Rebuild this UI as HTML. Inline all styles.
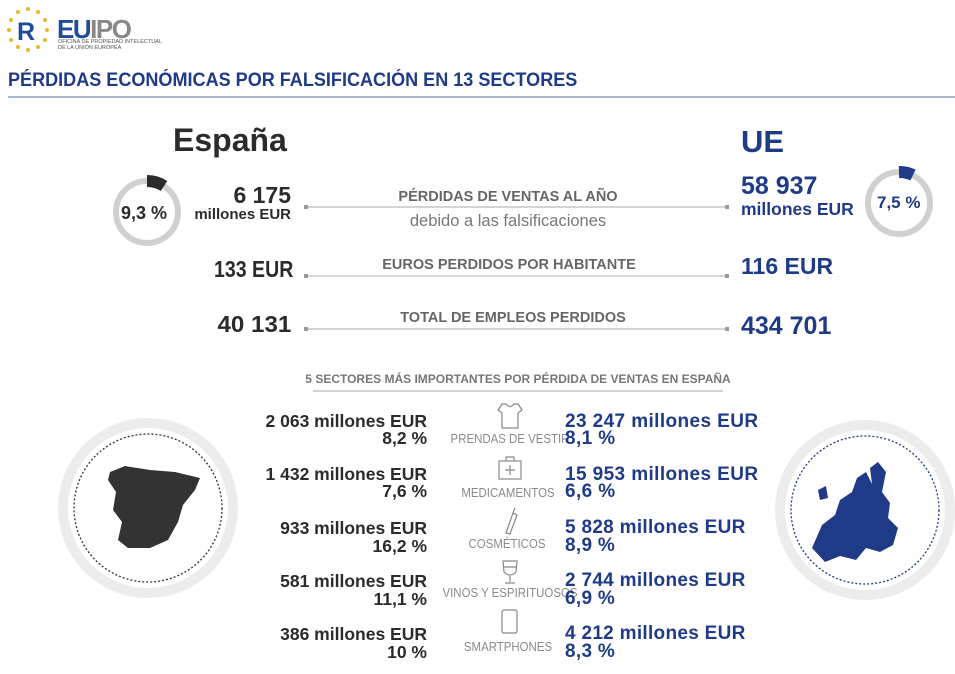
<!DOCTYPE html>
<html><head><meta charset="utf-8"><style>
body{margin:0;width:955px;height:674px;background:#fff;position:relative;overflow:hidden;font-family:"Liberation Sans",sans-serif;}
.a{position:absolute;white-space:nowrap;}
.b{font-weight:bold;}
.dk{color:#2b2b2b}.bl{color:#1f3b88}.gr{color:#8a8a8a}
.r{text-align:right}
.c{text-align:center;transform:translateX(-50%)}
</style></head><body>
<svg class="a" style="left:0;top:0" width="955" height="674">
 <g fill="#e8b92e">
  <circle cx="28" cy="9" r="2"/><circle cx="38" cy="12" r="2"/><circle cx="45" cy="20" r="2"/><circle cx="47" cy="30" r="2"/><circle cx="45" cy="40" r="2"/><circle cx="38" cy="47" r="2"/><circle cx="28" cy="50" r="2"/><circle cx="18" cy="47" r="2"/><circle cx="11" cy="40" r="2"/><circle cx="9" cy="30" r="2"/><circle cx="11" cy="20" r="2"/><circle cx="18" cy="12" r="2"/>
 </g>
 <text x="17" y="40" font-family="Liberation Sans" font-weight="bold" font-size="25" fill="#1f4c9a">R</text>
 <line x1="8" y1="97" x2="955" y2="97" stroke="#8fa0c4" stroke-width="1.5"/>
 <circle cx="147" cy="212" r="31" fill="none" stroke="#d0d0d0" stroke-width="6"/>
 <path d="M147 181 A31 31 0 0 1 164 186" fill="none" stroke="#2b2b2b" stroke-width="12"/>
 <circle cx="899" cy="203" r="31" fill="none" stroke="#d0d0d0" stroke-width="6"/>
 <path d="M899 172 A31 31 0 0 1 913 175" fill="none" stroke="#1f3b88" stroke-width="12"/>
 <circle cx="148" cy="508" r="85" fill="none" stroke="#ececec" stroke-width="10"/>
 <circle cx="148" cy="508" r="74" fill="none" stroke="#333" stroke-width="1.3" stroke-dasharray="2 2"/>
 <circle cx="865" cy="510" r="85" fill="none" stroke="#ececec" stroke-width="10"/>
 <circle cx="865" cy="510" r="74" fill="none" stroke="#1f3b88" stroke-width="1.3" stroke-dasharray="2 2"/>
 <path d="M110 472 L125 466 L150 470 L175 472 L200 478 L195 490 L183 505 L178 522 L168 540 L150 548 L128 548 L118 540 L122 522 L113 510 L116 492 L108 480 Z" fill="#333"/>
 <path d="M812 548 L822 525 L835 515 L840 500 L852 492 L857 478 L866 472 L872 484 L870 468 L878 462 L886 472 L882 492 L890 503 L888 518 L898 528 L893 545 L880 552 L866 548 L856 560 L840 556 L825 562 Z M818 490 L826 486 L828 498 L820 500 Z" fill="#1f3b88"/>
 <g stroke="#aaa" stroke-width="1"><line x1="305" y1="207" x2="728" y2="207"/><line x1="305" y1="276" x2="728" y2="276"/><line x1="305" y1="329" x2="728" y2="329"/><line x1="313" y1="391" x2="723" y2="391"/></g>
 <g fill="#999"><rect x="304" y="205" width="4" height="4"/><rect x="725" y="205" width="4" height="4"/><rect x="304" y="274" width="4" height="4"/><rect x="725" y="274" width="4" height="4"/><rect x="304" y="327" width="4" height="4"/><rect x="725" y="327" width="4" height="4"/></g>
 <g fill="none" stroke="#888" stroke-width="1.2">
  <path d="M502 404 L498 410 L502 413 L502 428 L518 428 L518 413 L522 410 L518 404 L514 404 Q510 409 506 404 Z"/>
  <rect x="499" y="461" width="22" height="18"/><path d="M506 461 V457 H514 V461 M510 465 V475 M505 470 H515"/>
  <path d="M506 533 L513 513 L517 515 L510 534 Z M513 513 L515 508"/>
  <path d="M503 561 H517 L516 572 Q510 578 504 572 Z M510 576 V582 M505 583 H515 M504 567 H516"/>
  <rect x="502" y="610" width="15" height="23" rx="2"/>
 </g>
</svg>
<div class="a b" style="left:57px;top:14px;font-size:26px;letter-spacing:-1.5px"><span style="color:#1f4c9a">EU</span><span style="color:#888">IPO</span></div>
<div class="a" style="left:58px;top:39px;font-size:5.5px;color:#555;line-height:6px">OFICINA DE PROPIEDAD INTELECTUAL<br>DE LA UNIÓN EUROPEA</div>
<div class="a b bl" style="left:8px;top:70px;font-size:19px;transform:scaleX(.95);transform-origin:left">PÉRDIDAS ECONÓMICAS POR FALSIFICACIÓN EN 13 SECTORES</div>
<div class="a b dk" style="left:173px;top:122px;font-size:32px">España</div>
<div class="a b bl" style="left:741px;top:124px;font-size:31px">UE</div>
<div class="a b dk" style="left:121px;top:203px;font-size:18px">9,3 %</div>
<div class="a b bl" style="left:877px;top:193px;font-size:17px">7,5 %</div>
<div class="a b dk r" style="right:664px;top:182px;font-size:23px">6 175</div>
<div class="a b dk r" style="right:664px;top:206px;font-size:15px">millones EUR</div>
<div class="a b bl" style="left:741px;top:172px;font-size:25px">58 937</div>
<div class="a b bl" style="left:741px;top:199px;font-size:17.5px">millones EUR</div>
<div class="a b c" style="left:508px;top:189px;font-size:14.5px;color:#666">PÉRDIDAS DE VENTAS AL AÑO</div>
<div class="a c" style="left:508px;top:212px;font-size:16.5px;color:#777">debido a las falsificaciones</div>
<div class="a b dk r" style="right:662px;top:256px;font-size:23px;transform:scaleX(.85);transform-origin:right">133 EUR</div>
<div class="a b c" style="left:509px;top:257px;font-size:14.5px;color:#666">EUROS PERDIDOS POR HABITANTE</div>
<div class="a b bl" style="left:741px;top:253px;font-size:23px">116 EUR</div>
<div class="a b dk r" style="right:664px;top:311px;font-size:23px;transform:scaleX(1.05);transform-origin:right">40 131</div>
<div class="a b c" style="left:513px;top:310px;font-size:14.5px;color:#666">TOTAL DE EMPLEOS PERDIDOS</div>
<div class="a b bl" style="left:741px;top:312px;font-size:25px">434 701</div>
<div class="a b c" style="left:518px;top:372px;font-size:12px;color:#777">5 SECTORES MÁS IMPORTANTES POR PÉRDIDA DE VENTAS EN ESPAÑA</div>

<div class="a b dk r" style="right:528px;top:413px;font-size:17.5px;line-height:17px">2 063 millones EUR<br>8,2 %</div>
<div class="a b dk r" style="right:528px;top:466px;font-size:17.5px;line-height:17px">1 432 millones EUR<br>7,6 %</div>
<div class="a b dk r" style="right:528px;top:519px;font-size:17.5px;line-height:18px">933 millones EUR<br>16,2 %</div>
<div class="a b dk r" style="right:528px;top:572px;font-size:17.5px;line-height:18px">581 millones EUR<br>11,1 %</div>
<div class="a b dk r" style="right:528px;top:625px;font-size:17.5px;line-height:18px">386 millones EUR<br>10 %</div>

<div class="a gr c" style="left:510px;top:431px;font-size:13px;transform:translateX(-50%) scaleX(.88)">PRENDAS DE VESTIR</div>
<div class="a gr c" style="left:508px;top:485px;font-size:13px;transform:translateX(-50%) scaleX(.88)">MEDICAMENTOS</div>
<div class="a gr c" style="left:507px;top:536px;font-size:13px;transform:translateX(-50%) scaleX(.88)">COSMÉTICOS</div>
<div class="a gr c" style="left:510px;top:585px;font-size:13px;transform:translateX(-50%) scaleX(.88)">VINOS Y ESPIRITUOSOS</div>
<div class="a gr c" style="left:508px;top:639px;font-size:13px;transform:translateX(-50%) scaleX(.88)">SMARTPHONES</div>

<div class="a b bl" style="left:565px;top:413px;font-size:19px;line-height:17px;letter-spacing:.4px">23 247 millones EUR<br>8,1 %</div>
<div class="a b bl" style="left:565px;top:466px;font-size:19px;line-height:17px;letter-spacing:.4px">15 953 millones EUR<br>6,6 %</div>
<div class="a b bl" style="left:565px;top:519px;font-size:19px;line-height:18px;letter-spacing:.3px">5 828 millones EUR<br>8,9 %</div>
<div class="a b bl" style="left:565px;top:572px;font-size:19px;line-height:18px;letter-spacing:.3px">2 744 millones EUR<br>6,9 %</div>
<div class="a b bl" style="left:565px;top:625px;font-size:19px;line-height:18px;letter-spacing:.3px">4 212 millones EUR<br>8,3 %</div>
</body></html>
